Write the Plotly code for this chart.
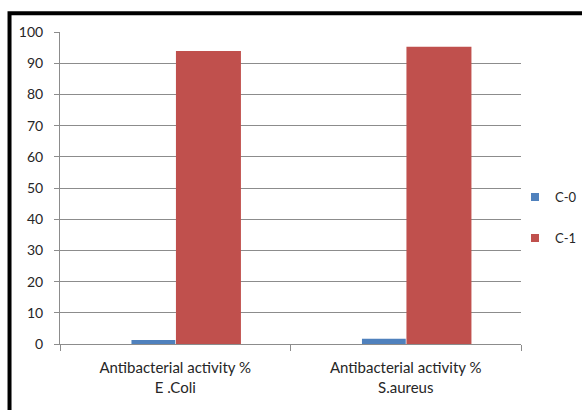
import plotly.graph_objects as go

categories = ["Antibacterial activity %<br>E .Coli", "Antibacterial activity %<br>S.aureus"]
c0_values = [1.3, 1.7]
c1_values = [93.9, 95.3]
series_names = ["C-0", "C-1"]
colors = ["#4F81BD", "#C0504D"]
y_ticks = [0, 10, 20, 30, 40, 50, 60, 70, 80, 90, 100]

fig = go.Figure()
fig.add_trace(go.Bar(x=categories, y=c0_values, name=series_names[0],
                     marker=dict(color=colors[0], line=dict(width=0)),
                     width=0.19, offset=-0.19, showlegend=False, legendgroup="a"))
fig.add_trace(go.Bar(x=categories, y=c1_values, name=series_names[1],
                     marker=dict(color=colors[1], line=dict(width=0)),
                     width=0.282, offset=0.003, showlegend=False, legendgroup="b"))
# legend entries with small square keys
for name, col, grp in zip(series_names, colors, ["a", "b"]):
    fig.add_trace(go.Scatter(x=[None], y=[None], mode="markers", name=name,
                             legendgroup=grp,
                             marker=dict(symbol="square", size=8, color=col)))

font = "Lato, 'Open Sans', sans-serif"
fig.update_layout(
    width=582, height=410,
    margin=dict(l=60, r=61, t=32, b=66, autoexpand=False),
    paper_bgcolor="white", plot_bgcolor="white",
    barmode="overlay",
    font=dict(family=font, size=13, color="#262626"),
    showlegend=True,
    legend=dict(x=1.1323, xanchor="right", y=0.405, yanchor="middle",
                font=dict(size=13, color="#262626"), itemwidth=30,
                tracegroupgap=21, bgcolor="rgba(0,0,0,0)"),
    xaxis=dict(type="category", showgrid=False, showline=True, linecolor="#8c8c8c",
               linewidth=1, ticks="outside", tickson="boundaries", ticklen=6,
               tickcolor="#8c8c8c", ticklabelstandoff=10,
               tickfont=dict(size=15, color="#262626")),
    yaxis=dict(range=[0, 100], tickvals=y_ticks, showgrid=True, gridcolor="#8c8c8c",
               gridwidth=1, showline=True, linecolor="#8c8c8c", linewidth=1,
               ticks="outside", ticklen=5, tickcolor="#8c8c8c", ticklabelstandoff=8,
               tickfont=dict(size=14, color="#262626"), zeroline=False),
    shapes=[dict(type="rect", xref="paper", yref="paper",
                 x0=-0.1095, x1=1.3, y0=-0.4, y1=1.06,
                 line=dict(color="black", width=4), fillcolor="rgba(0,0,0,0)")],
)

fig.write_html("out.html")
